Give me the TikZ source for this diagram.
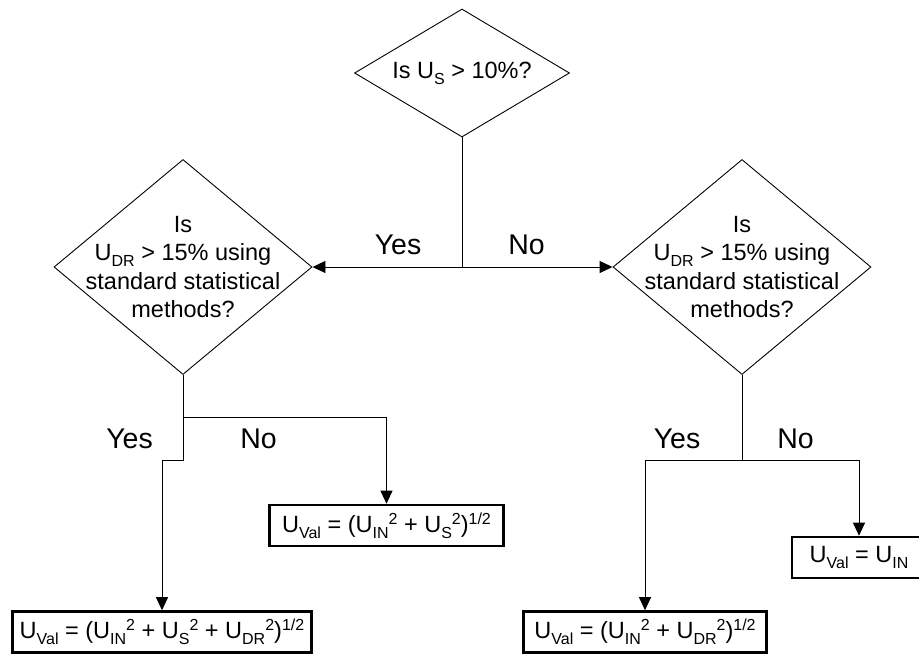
\documentclass[tikz,border=0pt]{standalone}
\usepackage{fontspec}
\setmainfont{Liberation Sans}
\usetikzlibrary{arrows.meta}
\usetikzlibrary{shapes.geometric}
\newcommand{\lo}[1]{\raisebox{-6pt}{\fontsize{16}{16}\selectfont #1}}
\newcommand{\hi}[1]{\raisebox{8pt}{\fontsize{16}{16}\selectfont #1}}

\begin{document}
\begin{tikzpicture}[x=1pt,y=-1pt,
  decision/.style={diamond,draw,line width=0.9pt,inner sep=0pt},
  question/.style={align=center,font=\fontsize{23.5}{28.3}\selectfont,inner sep=0pt},
  result/.style={draw,line width=2.6pt,inner sep=0pt,minimum height=41pt,font=\fontsize{23.5}{28.3}\selectfont},
  answer/.style={anchor=base,font=\fontsize{28.5}{33}\selectfont,inner sep=0pt},
  link/.style={line width=0.9pt},
  arrow/.style={link,-{Triangle[length=13pt,width=12pt]}}]
\useasboundingbox (0,0) rectangle (919,654);
\node[decision,minimum width=215pt,minimum height=128pt] (d0) at (462,73) {};
\node[question] (q0) at (d0) {Is U\lo{S} > 10\%?};
\node[decision,minimum width=258pt,minimum height=215pt] (d1) at (183,267) {};
\node[question] (q1) at (d1) {Is\\U\lo{DR} > 15\% using\\standard statistical\\methods?};
\node[decision,minimum width=258pt,minimum height=215pt] (d2) at (742,267) {};
\node[question] (q2) at (d2) {Is\\U\lo{DR} > 15\% using\\standard statistical\\methods?};
\node[result,minimum width=299pt] (r1) at (162,632) {U\lo{Val} = (U\lo{IN}\hi{2} + U\lo{S}\hi{2} + U\lo{DR}\hi{2})\hi{1/2}};
\node[result,minimum width=234pt] (r2) at (386.5,525.5) {U\lo{Val} = (U\lo{IN}\hi{2} + U\lo{S}\hi{2})\hi{1/2}};
\node[result,minimum width=243pt] (r3) at (645,632) {U\lo{Val} = (U\lo{IN}\hi{2} + U\lo{DR}\hi{2})\hi{1/2}};
\node[result,minimum width=134pt] (r4) at (859,557.5) {U\lo{Val} = U\lo{IN}};
\coordinate (j0) at (d0.south |- d1.east);
\coordinate (j1) at (183,417);
\coordinate (k1) at (183,460);
\coordinate (j2) at (742,460);
\draw[link] (d0.south) -- (j0);
\draw[arrow] (j0) -- (d1.east);
\draw[arrow] (j0) -- (d2.west);
\draw[link] (d1.south) -- (j1);
\draw[arrow] (j1) -| (r2.north);
\draw[arrow] (j1) -- (k1) -| (r1.north);
\draw[link] (d2.south) -- (j2);
\draw[arrow] (j2) -| (r3.north);
\draw[arrow] (j2) -| (r4.north);
\node[answer] (y0) at (398,254) {Yes};
\node[answer] (n0) at (526.5,254) {No};
\node[answer] (y1) at (129.5,448) {Yes};
\node[answer] (n1) at (258.5,448) {No};
\node[answer] (y2) at (677,448) {Yes};
\node[answer] (n2) at (795.5,448) {No};
\end{tikzpicture}
\end{document}
